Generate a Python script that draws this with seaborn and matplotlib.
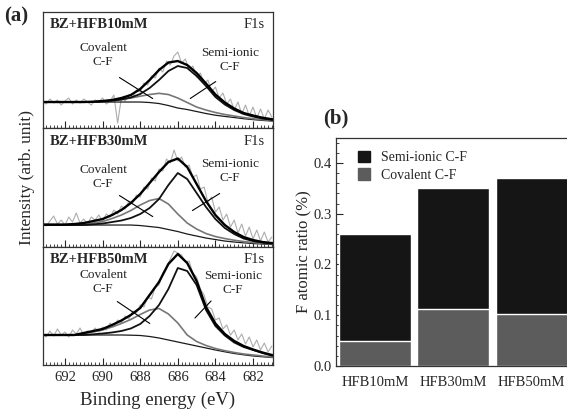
import numpy as np
import pandas as pd
import matplotlib.pyplot as plt
import seaborn as sns
from matplotlib.ticker import MultipleLocator
from matplotlib.patches import Patch

sns.set_style('ticks')
plt.rcParams['font.family'] = ['Liberation Serif', 'DejaVu Serif']

# %% data
# (a) F1s spectra, intensity in arbitrary units
fit_energy = np.arange(693.5, 680.4, -0.5)              # 27 points
raw_energy = np.round(np.arange(693.2, 680.9, -0.2), 1)  # 62 points

samples = ['BZ+HFB10mM', 'BZ+HFB30mM', 'BZ+HFB50mM']
panel_top = [116, 119, 118]

bg1 = [26, 26, 26, 26, 26, 26, 26, 26, 26, 26, 26, 26, 25.5, 24.5, 22.5, 20, 18.5, 16.5, 14.5, 12.8, 11.6, 10.5, 9.3, 8.4, 7.6, 7, 6.6]
cov1 = [26, 26, 26, 26, 26, 26, 26.3, 26.8, 27.5, 28.5, 30, 31.8, 33.5, 34.7, 33.5, 30, 25.5, 21, 18, 15.5, 13.5, 12, 10.5, 9.3, 8.3, 7.5, 7]
semi1 = [26, 26, 26, 26, 26, 26, 26, 26.5, 27.3, 28.5, 30.5, 34, 40, 48, 57, 62, 60, 52, 42, 31, 23.5, 18, 14, 11.5, 9.5, 8.2, 7.5]
tot1 = [26, 26, 26, 26, 26, 26, 26.3, 27, 28, 30, 33, 39, 48, 58, 65.5, 67, 63, 55, 44.5, 33.5, 25.5, 19.5, 15, 12.5, 10.3, 8.8, 8]
raw1 = [27, 24, 29, 25, 28, 23, 27, 30, 24, 28, 25, 29, 26, 23, 28, 26, 30, 24, 27, 33, 5,
        30, 27, 33, 31, 38, 36, 45, 43, 52, 50, 60, 56, 67, 63, 72, 76, 65, 69, 58, 62,
        51, 55, 44, 48, 36, 41, 30, 35, 24, 29, 18, 26, 14, 23, 12, 21, 10, 19, 9, 18, 11]

bg2 = [22, 22, 22, 22, 22, 22, 22, 22, 22, 22, 22, 21.5, 20.5, 19.5, 17.5, 15.5, 13, 11, 9, 7.5, 6, 5, 4.2, 3.5, 3, 2.5, 2.2]
cov2 = [22, 22, 22, 22, 22, 22.5, 24, 25.5, 28.5, 32, 36.5, 42, 46.5, 48.5, 43, 33, 24, 18, 13.5, 10.5, 8.5, 6.8, 5.5, 4.5, 3.7, 3, 2.6]
semi2 = [22, 22, 22, 22, 22, 22, 22.7, 23.5, 25, 26.5, 29, 33, 39, 48, 62, 74, 68, 54, 40, 28, 19, 13, 8.5, 6, 4.5, 3.5, 3]
tot2 = [22.5, 22.5, 22.5, 22.5, 23, 24, 26, 28, 32, 37, 44, 53, 64, 75, 85, 88.5, 80, 63, 46, 32, 22, 15, 10, 7, 5, 4, 3.5]
raw2 = [24, 21, 26, 31, 23, 27, 22, 30, 25, 34, 24, 28, 23, 30, 27, 32, 26, 33, 30, 37, 33,
        41, 38, 46, 44, 52, 50, 60, 58, 69, 66, 78, 76, 88, 84, 97, 86, 90, 80, 82, 70,
        72, 58, 60, 45, 50, 35, 40, 27, 33, 20, 27, 14, 23, 11, 20, 8, 17, 6, 15, 5, 10]

bg3 = [30, 30, 30, 30, 30, 30, 30, 30, 30, 30, 29.8, 29.5, 28.5, 27, 25, 23, 21, 19, 17, 15, 13.2, 11.5, 10.2, 9, 8.2, 7.5, 7]
cov3 = [30, 30, 30, 30, 30, 31.5, 33, 35, 38, 41.5, 45.5, 50.5, 55, 56.5, 51, 42, 30, 23.5, 19.5, 16.5, 14.3, 12.5, 11, 10, 9, 8, 7.5]
semi3 = [30, 30, 30, 30, 30, 30, 30.7, 31.5, 32.5, 34, 36.5, 41, 49, 60, 76, 97, 94, 80, 55, 39, 29.5, 22.5, 18, 15, 12, 9.5, 8.5]
tot3 = [30, 30, 30, 30, 30, 32, 34, 36, 40, 44.5, 50, 57, 70, 83, 101, 111, 102, 84, 58, 41.5, 31, 24, 19, 15.5, 12.5, 10, 9]
raw3 = [31, 28, 34, 29, 36, 30, 33, 28, 35, 31, 37, 30, 34, 32, 37, 33, 38, 35, 42, 38, 45,
        42, 49, 46, 54, 52, 60, 58, 68, 66, 78, 80, 92, 98, 106, 114, 112, 110, 103, 104, 92,
        88, 76, 70, 58, 56, 45, 47, 36, 40, 30, 35, 25, 31, 21, 28, 18, 25, 15, 22, 13, 19]

# (b) atomic ratio
groups = ['HFB10mM', 'HFB30mM', 'HFB50mM']
covalent = [0.05, 0.113, 0.102]
semi_ionic = [0.21, 0.237, 0.268]

# %% figure
fig = plt.figure(figsize=(5.67, 4.09), dpi=100)

boxes = [[0.0758, 0.687, 0.4056, 0.2836],
         [0.0758, 0.396, 0.4056, 0.291],
         [0.0758, 0.1076, 0.4056, 0.2885]]

spectra = [(bg1, cov1, semi1, tot1, raw1),
           (bg2, cov2, semi2, tot2, raw2),
           (bg3, cov3, semi3, tot3, raw3)]

# label anchors (energy, intensity)
cov_text = [(689.98, 60), (689.98, 57), (689.98, 70)]
cov_tip = [((689.23, 52), (687.21, 28)), ((689.23, 53), (687.21, 29)), ((689.34, 65), (687.37, 40))]
semi_text = [(683.22, 55), (683.22, 63), (683.06, 69)]
semi_tip = [((683.86, 48), (685.46, 28)), ((683.65, 55), (685.35, 35)), ((684.13, 66), (685.19, 45))]

for i, (bg, cov, semi, tot, raw) in enumerate(spectra):
    ax = fig.add_axes(boxes[i])
    sns.lineplot(x=raw_energy, y=raw, color='#adadad', lw=0.8, ax=ax)
    sns.lineplot(x=fit_energy, y=bg, color='#1a1a1a', lw=0.9, ax=ax)
    sns.lineplot(x=fit_energy, y=cov, color='#777777', lw=1.2, ax=ax)
    sns.lineplot(x=fit_energy, y=semi, color='#111111', lw=1.3, ax=ax)
    sns.lineplot(x=fit_energy, y=tot, color='#000000', lw=1.7, ax=ax)
    ax.set_xlim(693.17, 680.94)
    ax.set_ylim(0, panel_top[i])
    ax.set_yticks([])
    ax.set_ylabel('')
    ax.xaxis.set_major_locator(MultipleLocator(2))
    ax.xaxis.set_minor_locator(MultipleLocator(0.2))
    ax.tick_params(axis='x', which='major', direction='in', length=5, width=0.8, labelsize=10.5, pad=4)
    ax.tick_params(axis='x', which='minor', direction='in', length=2.5, width=0.6)
    if i < 2:
        ax.tick_params(axis='x', labelbottom=False)
    for s in ax.spines.values():
        s.set_linewidth(0.9)
        s.set_color('#333333')
    ax.text(0.03, 0.89, samples[i], transform=ax.transAxes, fontsize=10.5,
            fontweight='bold', ha='left', va='center')
    ax.text(0.965, 0.89, 'F1s', transform=ax.transAxes, fontsize=10.5,
            ha='right', va='center')
    ax.text(*cov_text[i], 'Covalent\nC-F', fontsize=9.5, ha='center', va='bottom', linespacing=1.25)
    ax.annotate('', xy=cov_tip[i][1], xytext=cov_tip[i][0],
                arrowprops=dict(arrowstyle='-', color='black', lw=0.8))
    ax.text(*semi_text[i], 'Semi-ionic\nC-F', fontsize=9.5, ha='center', va='bottom', linespacing=1.25)
    ax.annotate('', xy=semi_tip[i][1], xytext=semi_tip[i][0],
                arrowprops=dict(arrowstyle='-', color='black', lw=0.8))
    if i == 2:
        ax.set_xlabel('Binding energy (eV)', fontsize=13.5, labelpad=6)

fig.text(0.047, 0.567, 'Intensity (arb. unit)', rotation=90, fontsize=12.5, ha='center', va='center')
fig.text(0.008, 0.96, '(a)', fontsize=15, fontweight='bold', ha='left', va='center')

# %% (b) stacked bars
axb = fig.add_axes([0.5926, 0.105, 0.4074, 0.5575])
total = np.array(covalent) + np.array(semi_ionic)
sns.barplot(x=groups, y=total, color='#151515', width=0.92, saturation=1, ax=axb)
sns.barplot(x=groups, y=covalent, color='#5c5c5c', width=0.92, saturation=1, ax=axb)
axb.set_xlim(-0.5, 2.45)
axb.set_ylim(0, 0.449)
axb.yaxis.set_major_locator(MultipleLocator(0.1))
axb.yaxis.set_minor_locator(MultipleLocator(0.02))
axb.set_yticks([0.0, 0.1, 0.2, 0.3, 0.4])
axb.set_yticklabels(['0.0', '0.1', '0.2', '0.3', '0.4'])
axb.tick_params(axis='y', which='major', direction='in', length=5, width=0.8, labelsize=10.5, pad=3)
axb.tick_params(axis='y', which='minor', direction='in', length=2.5, width=0.6)
axb.tick_params(axis='x', length=0, labelsize=10.5, pad=7)
axb.set_ylabel('F atomic ratio (%)', fontsize=12, labelpad=1)
axb.spines['right'].set_visible(False)
for s in ['left', 'top', 'bottom']:
    axb.spines[s].set_linewidth(0.9)
    axb.spines[s].set_color('#333333')
handles = [Patch(color='#151515', label='Semi-ionic C-F'),
           Patch(color='#5c5c5c', label='Covalent C-F')]
axb.legend(handles=handles, loc='upper left', bbox_to_anchor=(0.04, 1.0), frameon=False,
           fontsize=10, handlelength=0.9, handleheight=0.9, handletextpad=0.8, labelspacing=0.3)
fig.text(0.57, 0.71, '(b)', fontsize=15, fontweight='bold', ha='left', va='center')

fig.savefig('out.png', dpi=100)
